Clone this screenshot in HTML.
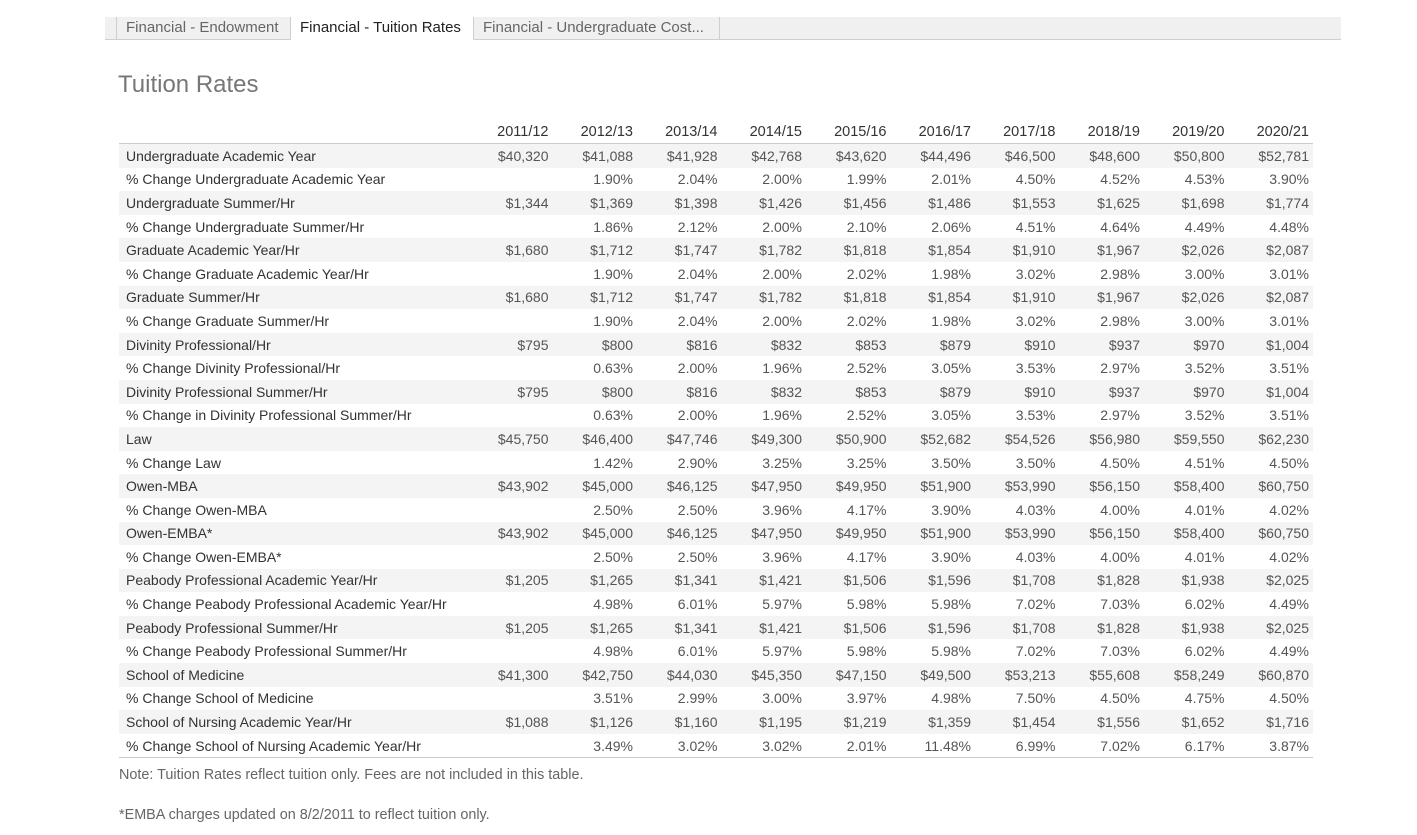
<!DOCTYPE html>
<html><head><meta charset="utf-8"><style>
body{margin:0;width:1417px;height:835px;background:#fff;font-family:"Liberation Sans",sans-serif;color:#333;position:relative;overflow:hidden}
.tabs{position:absolute;left:105px;top:17px;width:1236px;height:22px;background:#f0f0f0;border-bottom:1px solid #cfcfcf}
.tab{position:absolute;top:0;height:22px;line-height:22px;font-size:15px;color:#666;border-right:1px solid #cfcfcf;padding-left:9px;box-sizing:border-box;white-space:nowrap;overflow:hidden}
.tab.a{background:#fff;color:#222;border-bottom:1px solid #fff;height:23px}
h1{position:absolute;left:118px;top:71px;margin:0;font-weight:normal;font-size:24px;color:#777}
table{position:absolute;left:119px;top:121px;border-collapse:collapse;font-size:14px;table-layout:fixed;width:1194px}
td{height:23.6px;padding:0 4px 0 0;text-align:right;white-space:nowrap;overflow:hidden;color:#555}
td:first-child{text-align:left;padding-left:7px;color:#333}
tr.h td{height:22px;color:#333;font-size:14.5px;border-bottom:1px solid #ccc}
tr.g td{background:#f4f4f4}
tbody tr:last-child td{border-bottom:1px solid #ccc}
.n{position:absolute;left:119px;font-size:14.4px;color:#666}
</style></head><body>
<div class="tabs">
<div class="tab" style="left:0;width:12px;padding:0"></div>
<div class="tab" style="left:12px;width:174px">Financial - Endowment</div>
<div class="tab a" style="left:186px;width:183px">Financial - Tuition Rates</div>
<div class="tab" style="left:369px;width:246px">Financial - Undergraduate Cost...</div>
</div>
<h1>Tuition Rates</h1>
<table>
<colgroup><col style="width:349px"><col span="10" style="width:84.5px"></colgroup>
<tbody>
<tr class="h"><td></td><td>2011/12</td><td>2012/13</td><td>2013/14</td><td>2014/15</td><td>2015/16</td><td>2016/17</td><td>2017/18</td><td>2018/19</td><td>2019/20</td><td>2020/21</td></tr>
<tr class="g"><td>Undergraduate Academic Year</td><td>$40,320</td><td>$41,088</td><td>$41,928</td><td>$42,768</td><td>$43,620</td><td>$44,496</td><td>$46,500</td><td>$48,600</td><td>$50,800</td><td>$52,781</td></tr>
<tr><td>% Change Undergraduate Academic Year</td><td></td><td>1.90%</td><td>2.04%</td><td>2.00%</td><td>1.99%</td><td>2.01%</td><td>4.50%</td><td>4.52%</td><td>4.53%</td><td>3.90%</td></tr>
<tr class="g"><td>Undergraduate Summer/Hr</td><td>$1,344</td><td>$1,369</td><td>$1,398</td><td>$1,426</td><td>$1,456</td><td>$1,486</td><td>$1,553</td><td>$1,625</td><td>$1,698</td><td>$1,774</td></tr>
<tr><td>% Change Undergraduate Summer/Hr</td><td></td><td>1.86%</td><td>2.12%</td><td>2.00%</td><td>2.10%</td><td>2.06%</td><td>4.51%</td><td>4.64%</td><td>4.49%</td><td>4.48%</td></tr>
<tr class="g"><td>Graduate Academic Year/Hr</td><td>$1,680</td><td>$1,712</td><td>$1,747</td><td>$1,782</td><td>$1,818</td><td>$1,854</td><td>$1,910</td><td>$1,967</td><td>$2,026</td><td>$2,087</td></tr>
<tr><td>% Change Graduate Academic Year/Hr</td><td></td><td>1.90%</td><td>2.04%</td><td>2.00%</td><td>2.02%</td><td>1.98%</td><td>3.02%</td><td>2.98%</td><td>3.00%</td><td>3.01%</td></tr>
<tr class="g"><td>Graduate Summer/Hr</td><td>$1,680</td><td>$1,712</td><td>$1,747</td><td>$1,782</td><td>$1,818</td><td>$1,854</td><td>$1,910</td><td>$1,967</td><td>$2,026</td><td>$2,087</td></tr>
<tr><td>% Change Graduate Summer/Hr</td><td></td><td>1.90%</td><td>2.04%</td><td>2.00%</td><td>2.02%</td><td>1.98%</td><td>3.02%</td><td>2.98%</td><td>3.00%</td><td>3.01%</td></tr>
<tr class="g"><td>Divinity Professional/Hr</td><td>$795</td><td>$800</td><td>$816</td><td>$832</td><td>$853</td><td>$879</td><td>$910</td><td>$937</td><td>$970</td><td>$1,004</td></tr>
<tr><td>% Change Divinity Professional/Hr</td><td></td><td>0.63%</td><td>2.00%</td><td>1.96%</td><td>2.52%</td><td>3.05%</td><td>3.53%</td><td>2.97%</td><td>3.52%</td><td>3.51%</td></tr>
<tr class="g"><td>Divinity Professional Summer/Hr</td><td>$795</td><td>$800</td><td>$816</td><td>$832</td><td>$853</td><td>$879</td><td>$910</td><td>$937</td><td>$970</td><td>$1,004</td></tr>
<tr><td>% Change in Divinity Professional Summer/Hr</td><td></td><td>0.63%</td><td>2.00%</td><td>1.96%</td><td>2.52%</td><td>3.05%</td><td>3.53%</td><td>2.97%</td><td>3.52%</td><td>3.51%</td></tr>
<tr class="g"><td>Law</td><td>$45,750</td><td>$46,400</td><td>$47,746</td><td>$49,300</td><td>$50,900</td><td>$52,682</td><td>$54,526</td><td>$56,980</td><td>$59,550</td><td>$62,230</td></tr>
<tr><td>% Change Law</td><td></td><td>1.42%</td><td>2.90%</td><td>3.25%</td><td>3.25%</td><td>3.50%</td><td>3.50%</td><td>4.50%</td><td>4.51%</td><td>4.50%</td></tr>
<tr class="g"><td>Owen-MBA</td><td>$43,902</td><td>$45,000</td><td>$46,125</td><td>$47,950</td><td>$49,950</td><td>$51,900</td><td>$53,990</td><td>$56,150</td><td>$58,400</td><td>$60,750</td></tr>
<tr><td>% Change Owen-MBA</td><td></td><td>2.50%</td><td>2.50%</td><td>3.96%</td><td>4.17%</td><td>3.90%</td><td>4.03%</td><td>4.00%</td><td>4.01%</td><td>4.02%</td></tr>
<tr class="g"><td>Owen-EMBA*</td><td>$43,902</td><td>$45,000</td><td>$46,125</td><td>$47,950</td><td>$49,950</td><td>$51,900</td><td>$53,990</td><td>$56,150</td><td>$58,400</td><td>$60,750</td></tr>
<tr><td>% Change Owen-EMBA*</td><td></td><td>2.50%</td><td>2.50%</td><td>3.96%</td><td>4.17%</td><td>3.90%</td><td>4.03%</td><td>4.00%</td><td>4.01%</td><td>4.02%</td></tr>
<tr class="g"><td>Peabody Professional Academic Year/Hr</td><td>$1,205</td><td>$1,265</td><td>$1,341</td><td>$1,421</td><td>$1,506</td><td>$1,596</td><td>$1,708</td><td>$1,828</td><td>$1,938</td><td>$2,025</td></tr>
<tr><td>% Change Peabody Professional Academic Year/Hr</td><td></td><td>4.98%</td><td>6.01%</td><td>5.97%</td><td>5.98%</td><td>5.98%</td><td>7.02%</td><td>7.03%</td><td>6.02%</td><td>4.49%</td></tr>
<tr class="g"><td>Peabody Professional Summer/Hr</td><td>$1,205</td><td>$1,265</td><td>$1,341</td><td>$1,421</td><td>$1,506</td><td>$1,596</td><td>$1,708</td><td>$1,828</td><td>$1,938</td><td>$2,025</td></tr>
<tr><td>% Change Peabody Professional Summer/Hr</td><td></td><td>4.98%</td><td>6.01%</td><td>5.97%</td><td>5.98%</td><td>5.98%</td><td>7.02%</td><td>7.03%</td><td>6.02%</td><td>4.49%</td></tr>
<tr class="g"><td>School of Medicine</td><td>$41,300</td><td>$42,750</td><td>$44,030</td><td>$45,350</td><td>$47,150</td><td>$49,500</td><td>$53,213</td><td>$55,608</td><td>$58,249</td><td>$60,870</td></tr>
<tr><td>% Change School of Medicine</td><td></td><td>3.51%</td><td>2.99%</td><td>3.00%</td><td>3.97%</td><td>4.98%</td><td>7.50%</td><td>4.50%</td><td>4.75%</td><td>4.50%</td></tr>
<tr class="g"><td>School of Nursing Academic Year/Hr</td><td>$1,088</td><td>$1,126</td><td>$1,160</td><td>$1,195</td><td>$1,219</td><td>$1,359</td><td>$1,454</td><td>$1,556</td><td>$1,652</td><td>$1,716</td></tr>
<tr><td>% Change School of Nursing Academic Year/Hr</td><td></td><td>3.49%</td><td>3.02%</td><td>3.02%</td><td>2.01%</td><td>11.48%</td><td>6.99%</td><td>7.02%</td><td>6.17%</td><td>3.87%</td></tr>
</tbody></table>
<div class="n" style="top:767px">Note: Tuition Rates reflect tuition only. Fees are not included in this table.</div>
<div class="n" style="top:807px">*EMBA charges updated on 8/2/2011 to reflect tuition only.</div>
</body></html>
